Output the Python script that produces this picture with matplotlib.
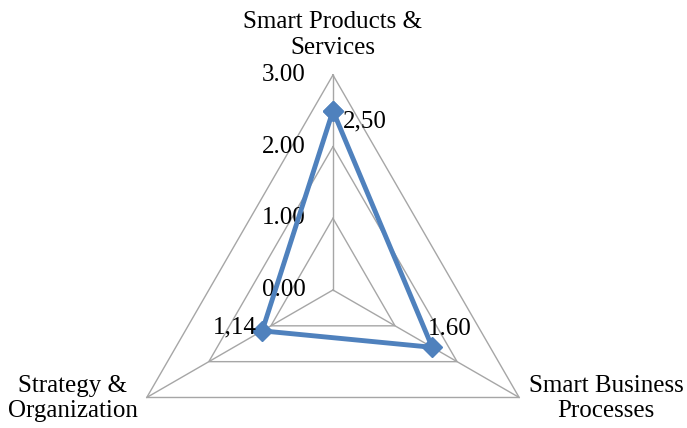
import numpy as np
import matplotlib.pyplot as plt

categories = ['Smart Products &\nServices', 'Smart Business\nProcesses', 'Strategy &\nOrganization']
values = [2.50, 1.60, 1.14]
value_labels = ['2,50', '1.60', '1,14']
grid_levels = [1, 2, 3]
tick_values = [0, 1, 2, 3]
tick_labels = ['0.00', '1.00', '2.00', '3.00']

plt.rcParams['font.family'] = ['Liberation Serif', 'DejaVu Serif']

fig = plt.figure(figsize=(6.87, 4.28), dpi=100)
ax = fig.add_axes([0.1717, -0.1799, 0.6259, 1.0047], projection='polar')
ax.set_theta_zero_location('N')
ax.set_theta_direction(-1)
ax.set_ylim(0, 3)
ax.grid(False)
ax.spines['polar'].set_visible(False)
ax.set_xticks([])
ax.set_yticks([])
ax.patch.set_alpha(0)

angles = np.linspace(0, 2 * np.pi, len(categories), endpoint=False)
closed = np.append(angles, angles[0])

grid_col = '#A6A6A6'
# triangle grid
for lev in grid_levels:
    ax.plot(closed, [lev] * len(closed), color=grid_col, lw=1.0, clip_on=False)
# spokes
for a in angles:
    ax.plot([a, a], [0, grid_levels[-1]], color=grid_col, lw=1.0, clip_on=False)

# data
vals = np.append(values, values[0])
ax.plot(closed, vals, color='#4F81BD', lw=3.5, marker='D', markersize=10,
        clip_on=False, zorder=5)

fs = 18

# value axis labels
for v, t in zip(tick_values, tick_labels):
    ax.annotate(t, (0, v), xytext=(-27, 0), textcoords='offset pixels',
                ha='right', va='center', fontsize=fs, annotation_clip=False)

# data labels
label_offsets = [(10, -11, 'left'), (-4, 18, 'left'), (-5, 3, 'right')]
for a, v, t, (dx, dy, ha) in zip(angles, values, value_labels, label_offsets):
    ax.annotate(t, (a, v), xytext=(dx, dy), textcoords='offset pixels',
                ha=ha, va='center', fontsize=fs, annotation_clip=False, zorder=6)

# category labels
cat_offsets = [(0, 40), (87, -1), (-74, -1)]
for a, c, (dx, dy) in zip(angles, categories, cat_offsets):
    ax.annotate(c, (a, grid_levels[-1]), xytext=(dx, dy), textcoords='offset pixels',
                ha='center', va='center', fontsize=fs, linespacing=1.22,
                annotation_clip=False)

fig.savefig('out.png', dpi=100)
